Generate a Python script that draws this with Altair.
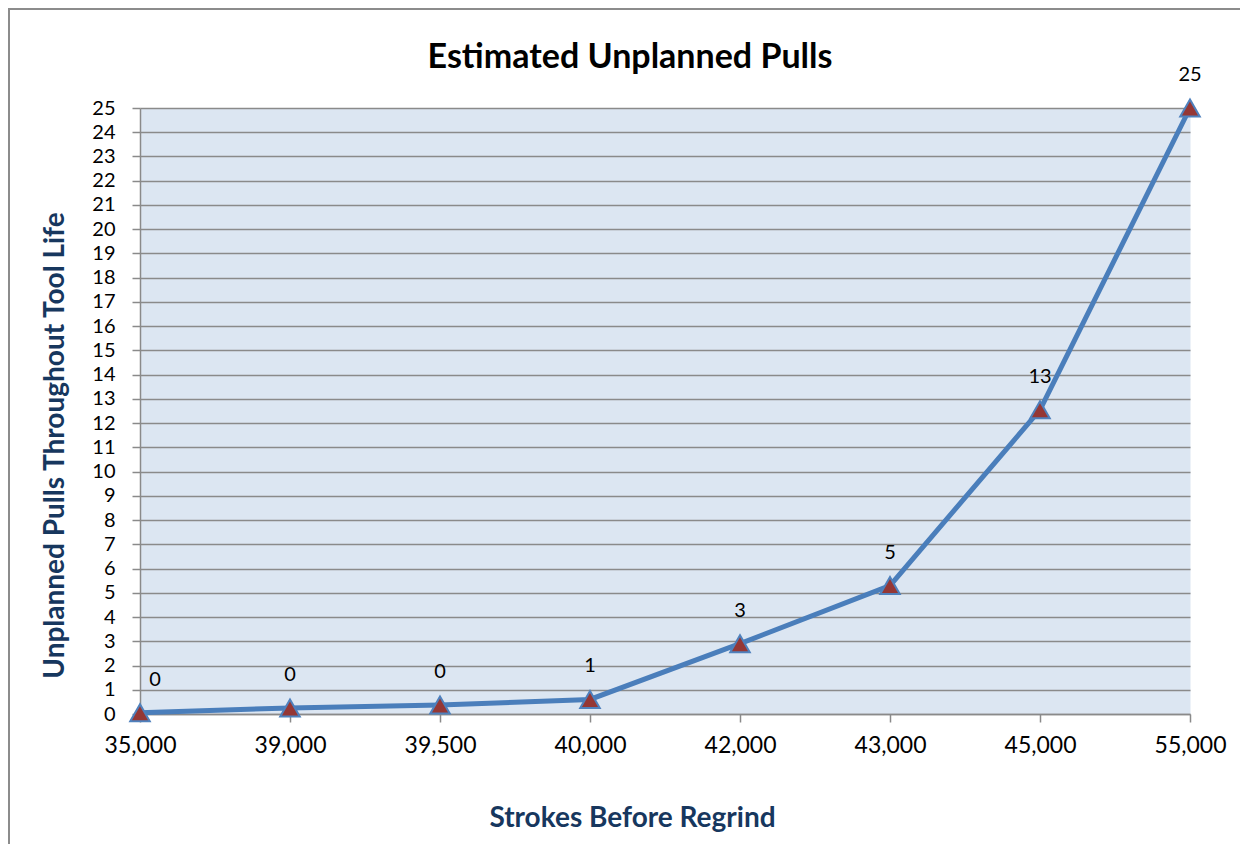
import altair as alt
import pandas as pd

strokes = ["35,000", "39,000", "39,500", "40,000", "42,000", "43,000", "45,000", "55,000"]
pulls = [0.05, 0.25, 0.37, 0.6, 2.9, 5.3, 12.55, 25.0]
y_ticks = list(range(0, 26))

df = pd.DataFrame({"strokes": strokes, "pulls": pulls})
frame_df = pd.DataFrame({"k": [0]})

GRID = "#8A8A8A"
NAVY = "#17375E"

x_enc = alt.X(
    "strokes:N",
    sort=strokes,
    scale=alt.Scale(type="point", padding=0),
    axis=alt.Axis(
        title="Strokes Before Regrind",
        labelAngle=0,
        labelFont="Lato",
        labelFontSize=23,
        labelColor="black",
        labelPadding=12,
        labelBaseline="top",
        domainColor=GRID,
        domainWidth=1.5,
        tickColor=GRID,
        tickWidth=1.5,
        tickSize=8,
        grid=False,
        titleFont="Lato",
        titleFontSize=28,
        titleFontWeight="bold",
        titleColor=NAVY,
        titleX=492,
        titleY=104,
        titleAlign="center",
        titleBaseline="middle",
    ),
)

y_enc = alt.Y(
    "pulls:Q",
    scale=alt.Scale(domain=[0, 25], nice=False, zero=True),
    axis=alt.Axis(
        values=y_ticks,
        title="Unplanned Pulls Throughout Tool Life",
        labelFont="Lato",
        labelFontSize=20,
        labelColor="black",
        labelPadding=17,
        domainColor=GRID,
        domainWidth=1.5,
        tickColor=GRID,
        tickWidth=1.5,
        tickSize=8,
        grid=True,
        gridColor=GRID,
        gridWidth=1.5,
        titleFont="Lato",
        titleFontSize=28,
        titleFontWeight="bold",
        titleColor=NAVY,
        titleAngle=270,
        titleX=-85,
        titleY=337,
        titleAlign="center",
        titleBaseline="middle",
    ),
)

frame = alt.Chart(frame_df).mark_rect(
    filled=False, stroke="#8C8C8C", strokeWidth=2
).encode(
    x=alt.value(-131), x2=alt.value(1130),
    y=alt.value(-99), y2=alt.value(780),
)

base = alt.Chart(df)

line = base.mark_line(color="#4A7EBB", strokeWidth=5).encode(x=x_enc, y=y_enc)

points = base.mark_point(
    shape="triangle-up", filled=True, fill="#953735", stroke="#4F81BD",
    strokeWidth=2, size=380, opacity=1
).encode(x=x_enc, y=y_enc)

labels_first = base.transform_filter(
    alt.datum.strokes == strokes[0]
).mark_text(
    font="Lato", fontSize=20, color="black", dy=-33, dx=15, baseline="middle"
).encode(x=x_enc, y=y_enc, text=alt.Text("pulls:Q", format=".0f"))

labels_rest = base.transform_filter(
    alt.datum.strokes != strokes[0]
).mark_text(
    font="Lato", fontSize=20, color="black", dy=-33, baseline="middle"
).encode(x=x_enc, y=y_enc, text=alt.Text("pulls:Q", format=".0f"))

chart = alt.layer(frame, line, points, labels_first, labels_rest).properties(
    width=1050,
    height=606,
    title=alt.TitleParams(
        text="Estimated Unplanned Pulls",
        font="Lato",
        fontSize=34,
        fontWeight="bold",
        color="black",
        anchor="middle",
        frame="group",
        dx=-35,
        offset=-94,
        baseline="alphabetic",
    ),
    autosize=alt.AutoSizeParams(type="none"),
    padding={"left": 132, "top": 100, "right": 50, "bottom": 130},
    background="white",
).configure_view(fill="#DCE6F2", stroke="transparent")

chart.save("out.html", embed_options={"renderer": "svg", "actions": False})
